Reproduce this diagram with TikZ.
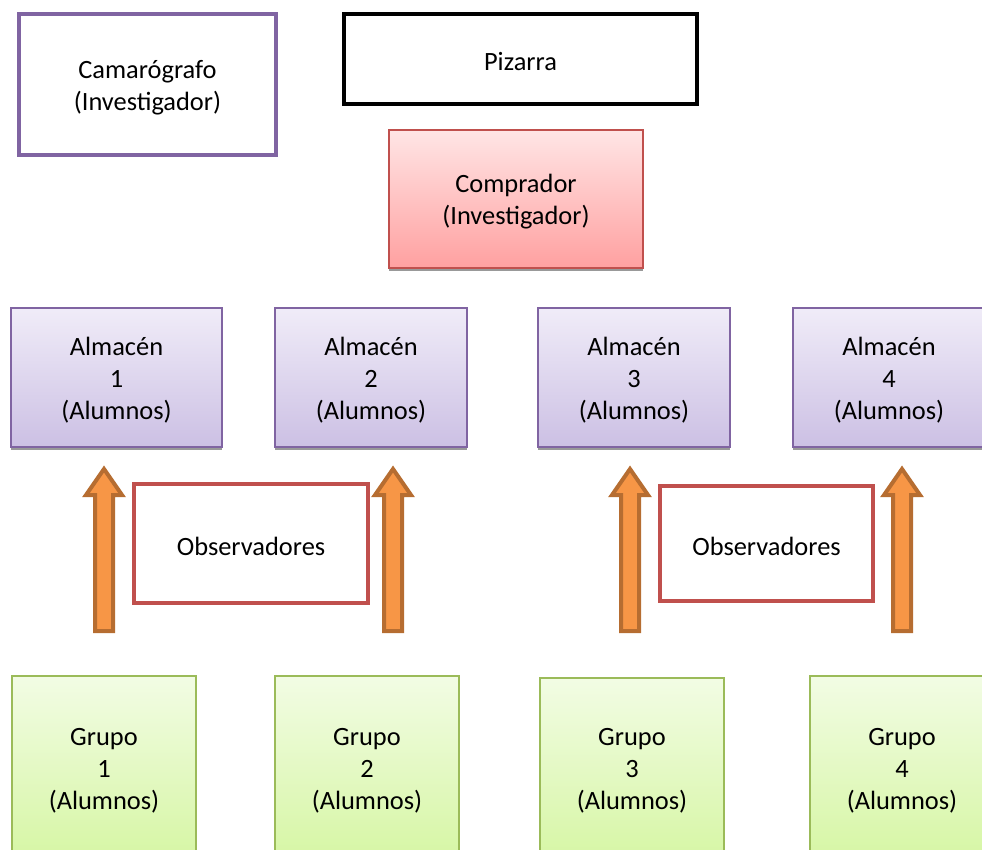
\documentclass[tikz,border=0pt]{standalone}
\usepackage{fontspec}
\setmainfont{Carlito}
\usetikzlibrary{shadows}
\definecolor{purp}{HTML}{8064A2}
\definecolor{redb}{HTML}{C0504D}
\definecolor{greenb}{HTML}{9BBB59}
\definecolor{orangef}{HTML}{F79646}
\definecolor{oranged}{HTML}{B66D31}
\tikzset{
  lbl/.style={align=center, inner sep=0pt, font=\fontsize{26.4}{32}\selectfont, text=black},
  box/.style={inner sep=0pt, draw, minimum width=#1},
  cambox/.style={box=257, minimum height=141, draw=purp, line width=4, fill=white},
  pizbox/.style={box=353, minimum height=90, draw=black, line width=4, fill=white},
  compbox/.style={box=254, minimum height=138, draw=redb, line width=2,
     top color=red!10, bottom color={rgb,255:red,255;green,160;blue,160},
     drop shadow={shadow xshift=0pt, shadow yshift=-3pt, fill=black!40, opacity=1}},
  almbox/.style={box=#1, minimum height=139, draw=purp, line width=2,
     top color={rgb,255:red,240;green,236;blue,248}, bottom color={rgb,255:red,204;green,192;blue,228},
     drop shadow={shadow xshift=0pt, shadow yshift=-3pt, fill=black!40, opacity=1}},
  obsbox/.style={box=#1, draw=redb, line width=4, fill=white},
  grpbox/.style={box=184, minimum height=184, draw=greenb, line width=2,
     top color={rgb,255:red,242;green,252;blue,228}, bottom color={rgb,255:red,214;green,246;blue,164}},
  blockarrow/.style={draw=oranged, fill=orangef, line width=4, line join=miter},
}
\newcommand{\uparrowblock}[1]{% center x
  \path[blockarrow] (#1-9,631) -- (#1-9,495) -- (#1-18,495) -- (#1,469) -- (#1+18,495) -- (#1+9,495) -- (#1+9,631) -- cycle;
}
\newcommand{\boxtext}[3][-3pt]{\node[lbl] at ([yshift=#1]#2.center) {#3};}
\begin{document}
\begin{tikzpicture}[x=1pt,y=-1pt]
\useasboundingbox (0,0) rectangle (982,849);
\clip (0,0) rectangle (982,849);
\node[cambox] (cam) at (147.5,84.5) {};
\node[pizbox] (piz) at (520.5,59) {};
\node[compbox] (comp) at (516,199) {};
\node[almbox=211] (a1) at (116.5,377.5) {};
\node[almbox=192] (a2) at (371,377.5) {};
\node[almbox=192] (a3) at (634,377.5) {};
\node[almbox=192] (a4) at (889,377.5) {};
\node[obsbox=234, minimum height=119] (o1) at (251,543.5) {};
\node[obsbox=213, minimum height=115] (o2) at (766.5,543.5) {};
\node[grpbox] (g1) at (104,768) {};
\node[grpbox] (g2) at (367,768) {};
\node[grpbox] (g3) at (632,770) {};
\node[grpbox] (g4) at (902,768) {};
\boxtext{cam}{Camarógrafo\\(Investigador)}
\boxtext{piz}{Pizarra}
\boxtext{comp}{Comprador\\(Investigador)}
\boxtext{a1}{Almacén\\1\\(Alumnos)}
\boxtext{a2}{Almacén\\2\\(Alumnos)}
\boxtext{a3}{Almacén\\3\\(Alumnos)}
\boxtext{a4}{Almacén\\4\\(Alumnos)}
\boxtext{o1}{Observadores}
\boxtext{o2}{Observadores}
\boxtext{g1}{Grupo\\1\\(Alumnos)}
\boxtext{g2}{Grupo\\2\\(Alumnos)}
\boxtext[-1pt]{g3}{Grupo\\3\\(Alumnos)}
\boxtext{g4}{Grupo\\4\\(Alumnos)}
\uparrowblock{104}
\uparrowblock{393}
\uparrowblock{630}
\uparrowblock{902}
\end{tikzpicture}
\end{document}
